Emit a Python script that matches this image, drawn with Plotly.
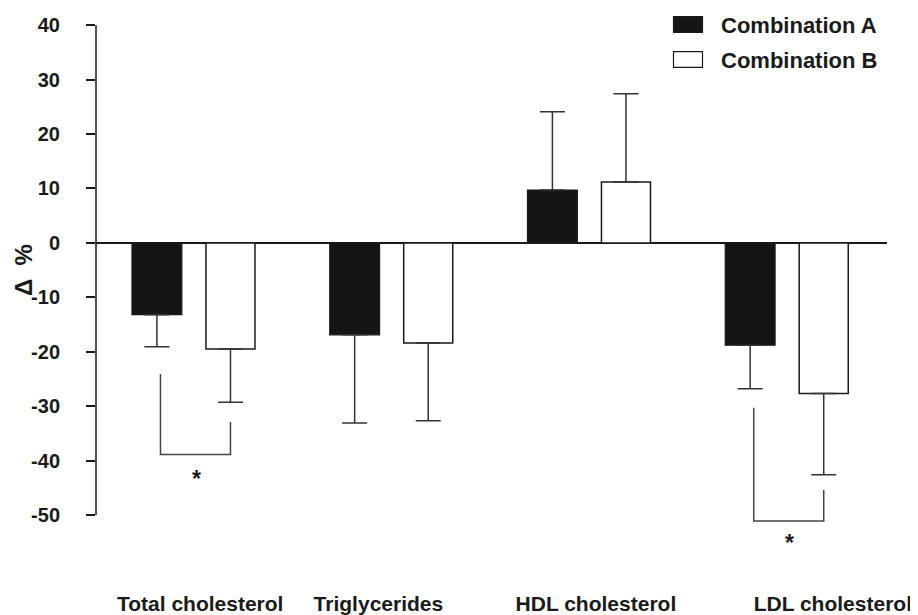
import plotly.graph_objects as go

# ---------------- data ----------------
categories = ["Total cholesterol", "Triglycerides", "HDL cholesterol", "LDL cholesterol"]
series_names = ["Combination A", "Combination B"]
comb_a = [-13.2, -16.9, 9.7, -18.8]
comb_b = [-19.5, -18.4, 11.2, -27.7]
err_a = [5.9, 16.2, 14.4, 8.0]
err_b = [9.8, 14.3, 16.2, 14.9]
group_pos = [0, 1, 2, 3]
label_pos = [0.027, 0.928, 2.028, 3.226]
y_ticks = [-50, -40, -30, -20, -10, 0, 10, 20, 30, 40]
y_tick_text = ["-50", "-40", "-30", "-20", "-10", "0", "10", "20", "30", "40"]

# significance brackets (group index, left top, right top, bottom, star y)
sig_groups = [0, 3]
sig_left_top = [-24.1, -30.3]
sig_right_top = [-32.9, -45.4]
sig_bottom = [-38.9, -51.1]
sig_star_y = [-42.4, -54.2]
sig_text = ["*", "*"]

# ---------------- layout geometry ----------------
# the page body has a default 8px margin, so the figure is drawn 8px smaller
OFF = 8
W, H = 918 - OFF, 615 - OFF
L, R, T, B = 96 - OFF, 31, 22 - OFF, 62
PW, PH = W - L - R, H - T - B
FONT = "Liberation Sans, Arial, Helvetica, sans-serif"
INK = "#1a1a1a"


def xp(px):
    return (px - OFF - L) / PW


def yp(py):
    return (H - B - (py - OFF)) / PH


def up_err(vals, errs):
    return [e if v > 0 else 0 for v, e in zip(vals, errs)]


def down_err(vals, errs):
    return [e if v < 0 else 0 for v, e in zip(vals, errs)]


fig = go.Figure()
fig.add_trace(go.Bar(
    x=group_pos, y=comb_a, name=series_names[0], width=0.252, offset=-0.318,
    marker=dict(color="#151515", line=dict(color=INK, width=1.2)),
    error_y=dict(type="data", symmetric=False, array=up_err(comb_a, err_a),
                 arrayminus=down_err(comb_a, err_a), color="#333333",
                 thickness=1.5, width=12.5),
    showlegend=False,
))
fig.add_trace(go.Bar(
    x=group_pos, y=comb_b, name=series_names[1], width=0.248, offset=0.056,
    marker=dict(color="white", line=dict(color=INK, width=1.5)),
    error_y=dict(type="data", symmetric=False, array=up_err(comb_b, err_b),
                 arrayminus=down_err(comb_b, err_b), color="#333333",
                 thickness=1.5, width=12.5),
    showlegend=False,
))

shapes = []
# y axis line from -50 to 40
shapes.append(dict(type="line", xref="paper", yref="y", x0=0, x1=0,
                   y0=y_ticks[0], y1=y_ticks[-1], line=dict(color=INK, width=1.5)))

annotations = []
# significance brackets
for g, lt, rt, bt, sy, st in zip(sig_groups, sig_left_top, sig_right_top,
                                  sig_bottom, sig_star_y, sig_text):
    xl, xr = group_pos[g] - 0.174, group_pos[g] + 0.18
    shapes.append(dict(type="path", xref="x", yref="y",
                       path=f"M {xl},{lt} L {xl},{bt} L {xr},{bt} L {xr},{rt}",
                       line=dict(color="#444444", width=1.5)))
    annotations.append(dict(x=group_pos[g] + 0.006, y=sy, xref="x", yref="y",
                            text=st, showarrow=False, yshift=-5,
                            font=dict(family=FONT, size=23, color=INK, weight="bold")))

# legend (manual, to match the wide swatches)
legend_rows = [24.5, 59.5]
legend_fill = ["#151515", "white"]
for name, cy, fill in zip(series_names, legend_rows, legend_fill):
    shapes.append(dict(type="rect", xref="paper", yref="paper",
                       x0=xp(673.5), x1=xp(702.5), y0=yp(cy - 7.8), y1=yp(cy + 7.8),
                       fillcolor=fill, line=dict(color=INK, width=1.2)))
    annotations.append(dict(x=xp(719), y=yp(cy + 1), xref="paper", yref="paper",
                            xanchor="left", yanchor="middle", text=name, showarrow=False,
                            font=dict(family=FONT, size=22, color=INK, weight="bold")))

# y-axis title
annotations.append(dict(x=xp(23), y=yp(270), xref="paper", yref="paper",
                        xanchor="center", yanchor="middle", text="Δ  %", textangle=-90,
                        showarrow=False,
                        font=dict(family=FONT, size=24, color=INK, weight="bold")))

fig.update_layout(
    width=W, height=H,
    margin=dict(l=L, r=R, t=T, b=B, pad=0, autoexpand=False),
    paper_bgcolor="white", plot_bgcolor="white",
    barmode="overlay",
    shapes=shapes, annotations=annotations,
    font=dict(family=FONT, color=INK),
    xaxis=dict(range=[-0.5, 3.5], showgrid=False, zeroline=False, showline=False,
               ticks="", tickmode="array", tickvals=label_pos, ticktext=categories,
               tickfont=dict(family=FONT, size=21, color=INK, weight="bold"),
               ticklabelstandoff=36, automargin=False, fixedrange=True),
    yaxis=dict(range=[-57, 40.6], showgrid=False, showline=False,
               zeroline=True, zerolinecolor=INK, zerolinewidth=1.5,
               tickmode="array", tickvals=y_ticks, ticktext=y_tick_text,
               ticks="outside", ticklen=9,
               tickwidth=1.5, tickcolor=INK, ticklabelstandoff=22,
               tickfont=dict(family=FONT, size=20, color=INK, weight="bold"),
               automargin=False, fixedrange=True),
)

fig.write_html("out.html")
